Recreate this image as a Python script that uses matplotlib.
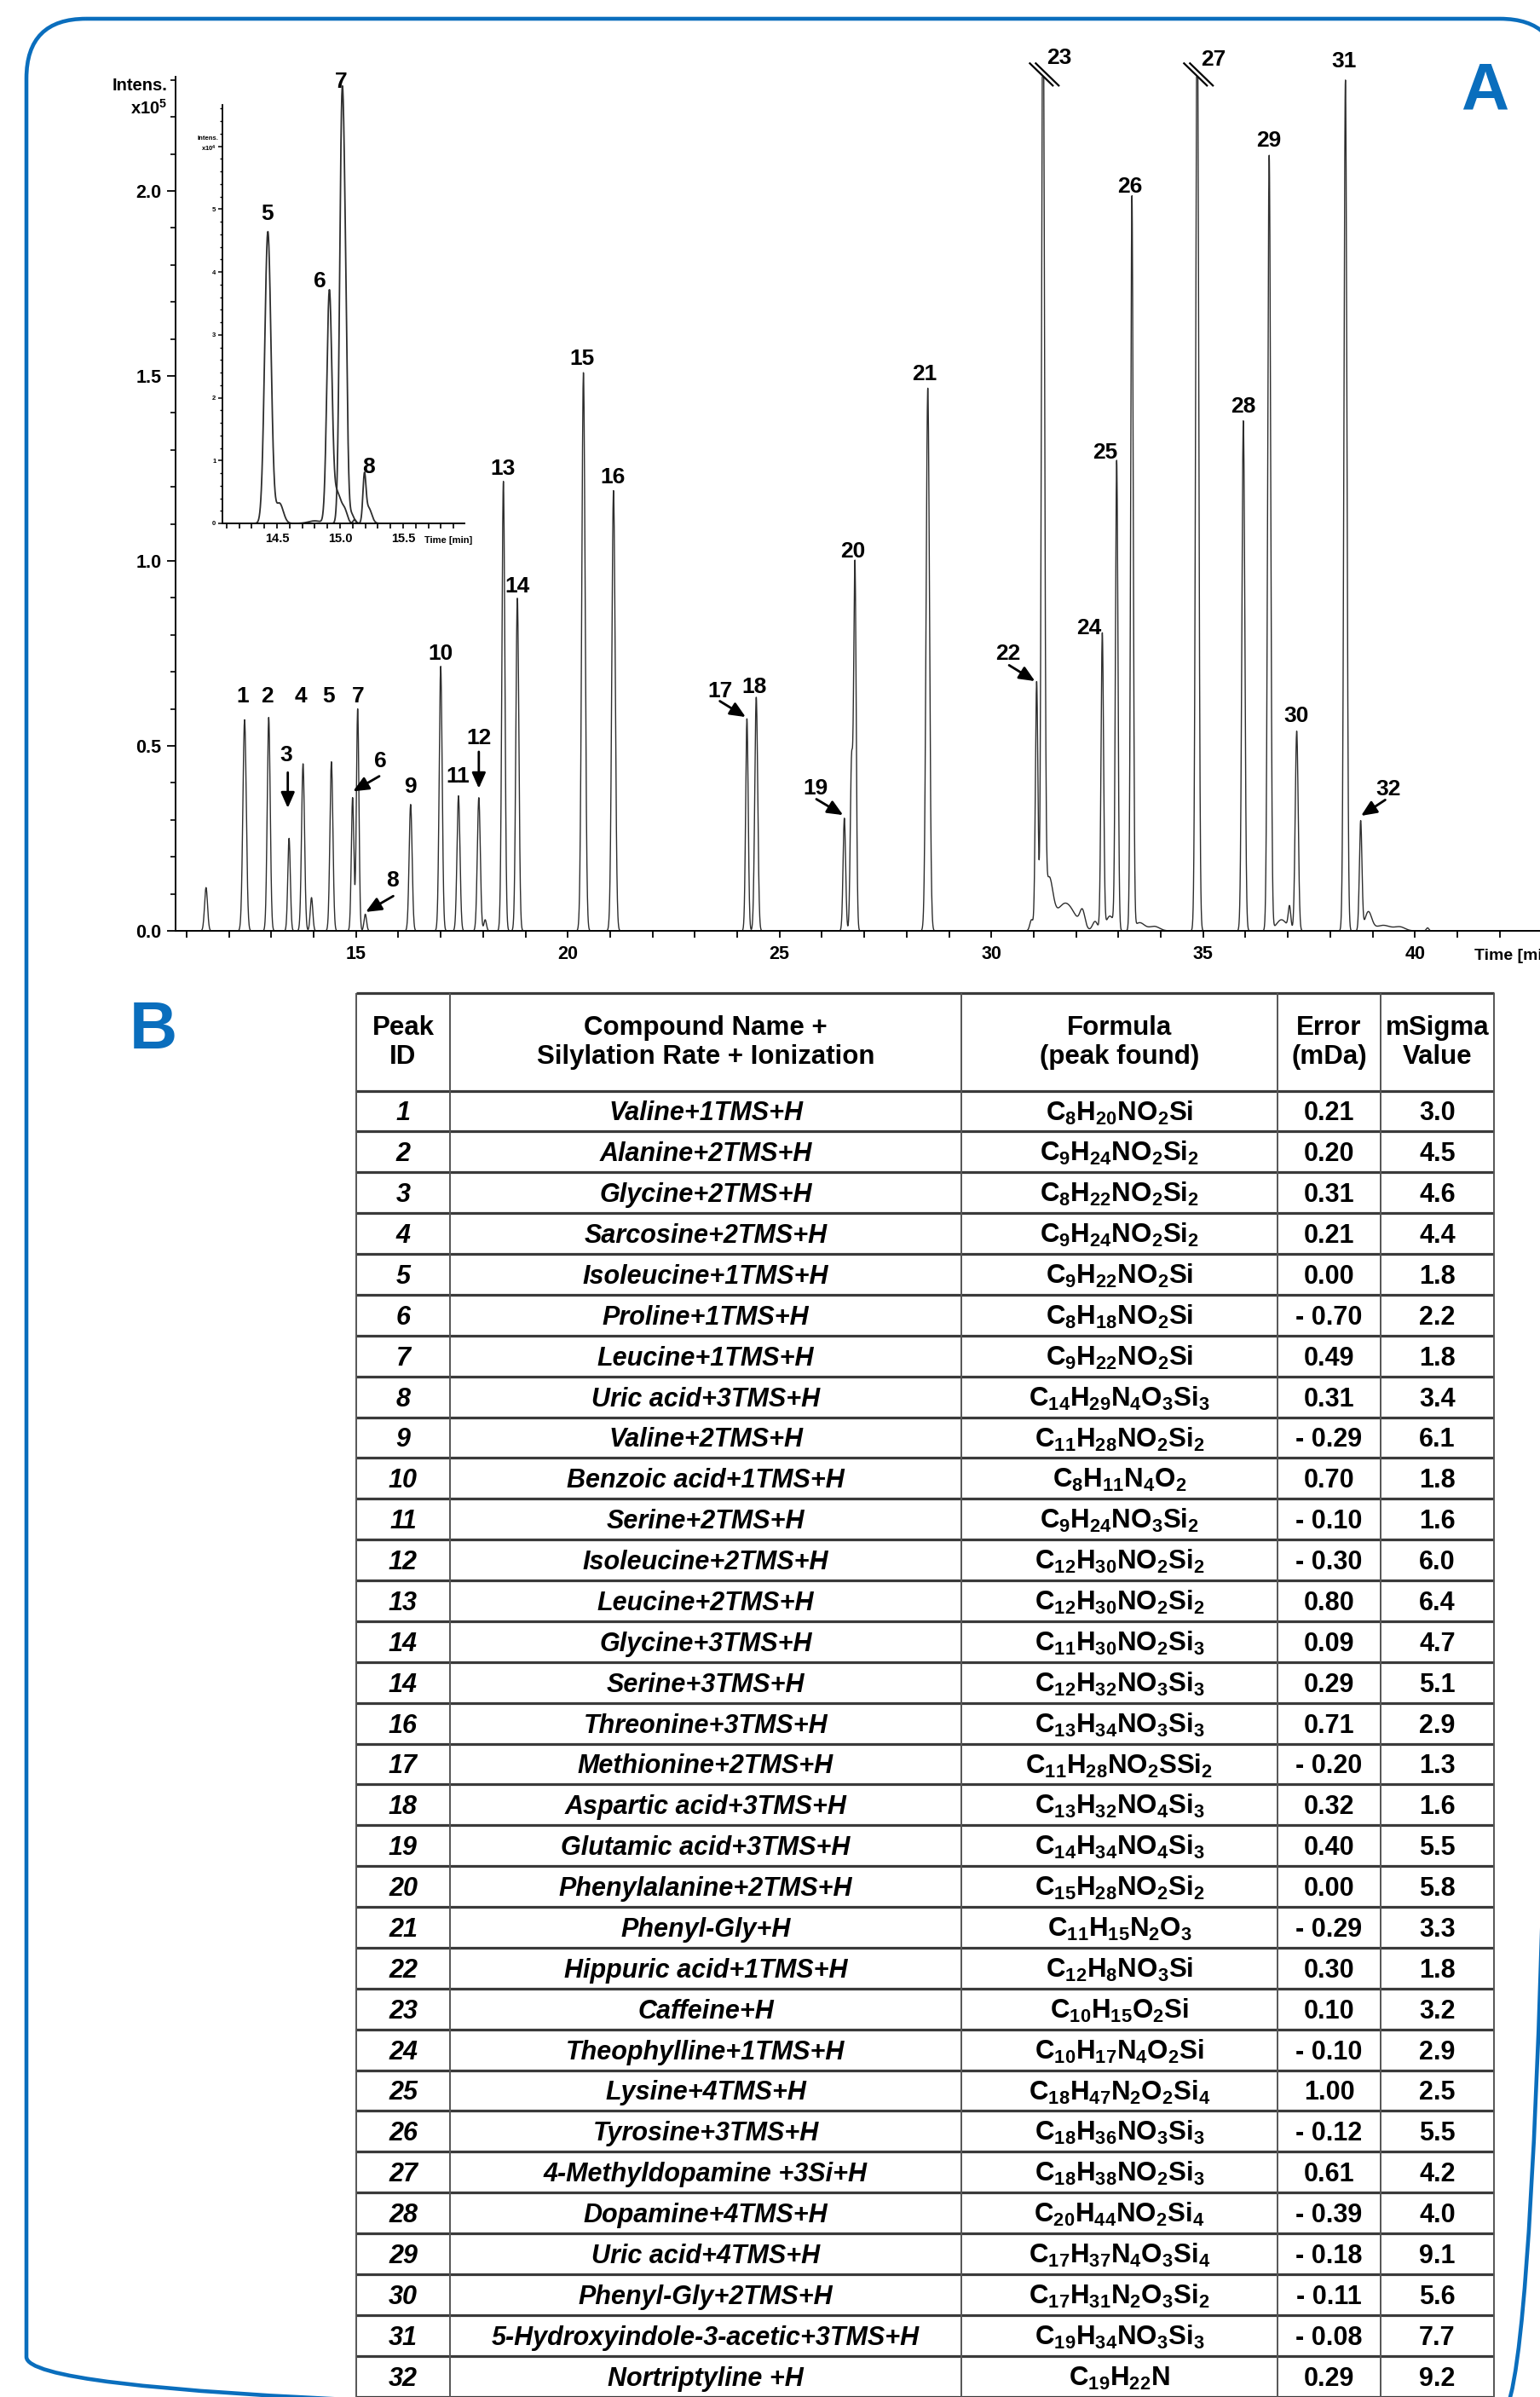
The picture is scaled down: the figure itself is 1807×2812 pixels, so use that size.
import re
import numpy as np
import matplotlib
matplotlib.use('Agg')
import matplotlib.pyplot as plt
from matplotlib.patches import FancyBboxPatch
from matplotlib.ticker import FixedLocator, MultipleLocator, FormatStrFormatter

plt.rcParams['font.family'] = ['Liberation Sans', 'DejaVu Sans']
plt.rcParams['font.weight'] = 'bold'
plt.rcParams['mathtext.fontset'] = 'custom'
plt.rcParams['mathtext.rm'] = 'Liberation Sans'
plt.rcParams['mathtext.bf'] = 'Liberation Sans:bold'
plt.rcParams['mathtext.it'] = 'Liberation Sans:italic'

BLUE = '#0a6ebd'
INK = '#2e2e2e'
W, H = 1807, 2812

# ---- main chromatogram: retention time (min), intensity (x10^5), peak width (min)
peak_rt = [11.46, 12.37, 12.94, 13.42, 13.75, 13.95, 14.42, 14.92, 15.04, 15.22,
           16.29, 17.00, 17.42, 17.90, 18.05, 18.48, 18.81, 20.37, 21.08,
           24.23, 24.45, 26.53, 26.70, 26.78, 28.50, 30.95, 31.07, 31.22,
           31.36, 31.75, 32.15, 32.45, 32.62, 32.80, 32.96, 33.32, 33.50, 33.85,
           34.86, 35.95, 36.56, 36.85, 37.04, 37.21, 38.36, 38.72, 38.90, 39.25,
           39.65, 40.30]
peak_h = [0.117, 0.571, 0.577, 0.250, 0.452, 0.090, 0.457, 0.360, 0.600, 0.045,
          0.342, 0.715, 0.365, 0.360, 0.030, 1.215, 0.900, 1.510, 1.190,
          0.574, 0.632, 0.305, 0.450, 0.990, 1.467, 0.030, 0.673, 2.600,
          0.130, 0.075, 0.045, 0.025, 0.800, 0.040, 1.264, 1.980, 0.022, 0.012,
          2.600, 1.380, 2.095, 0.030, 0.060, 0.540, 2.300, 0.294, 0.050, 0.015,
          0.010, 0.008]
peak_w = [0.035, 0.040, 0.035, 0.030, 0.035, 0.030, 0.035, 0.030, 0.030, 0.030,
          0.035, 0.035, 0.035, 0.035, 0.030, 0.035, 0.035, 0.040, 0.040,
          0.030, 0.035, 0.030, 0.030, 0.030, 0.040, 0.040, 0.030, 0.035,
          0.090, 0.220, 0.060, 0.060, 0.030, 0.090, 0.030, 0.030, 0.120, 0.120,
          0.035, 0.035, 0.035, 0.120, 0.030, 0.035, 0.035, 0.030, 0.080, 0.180,
          0.120, 0.030]

# peak labels (text centre, data units)
label_text = ['1', '2', '3', '4', '5', '6', '7', '8', '9', '10', '11', '12', '13', '14',
              '15', '16', '17', '18', '19', '20', '21', '22', '23', '24', '25', '26',
              '27', '28', '29', '30', '31', '32']
label_t = [12.33, 12.91, 13.36, 13.70, 14.35, 15.57, 15.04, 15.86, 16.29, 17.00, 17.41,
           17.90, 18.47, 18.81, 20.34, 21.06, 23.59, 24.41, 25.85, 26.73, 28.43, 30.39,
           31.61, 32.30, 32.69, 33.27, 35.25, 35.94, 36.55, 37.20, 38.32, 39.37]
label_h = [0.634, 0.634, 0.475, 0.634, 0.634, 0.459, 0.634, 0.135, 0.389, 0.750, 0.416,
           0.520, 1.248, 0.932, 1.545, 1.227, 0.648, 0.660, 0.385, 1.025, 1.504, 0.748,
           2.360, 0.819, 1.293, 2.012, 2.355, 1.417, 2.136, 0.580, 2.351, 0.383]

# arrows for crowded peaks: (tail t, tail h, tip t, tip h)
arrow_tail_t = [13.39, 15.55, 15.88, 17.90, 23.59, 25.87, 30.42, 39.30]
arrow_tail_h = [0.428, 0.418, 0.094, 0.484, 0.621, 0.356, 0.718, 0.354]
arrow_tip_t = [13.39, 14.93, 15.23, 17.90, 24.20, 26.50, 31.03, 38.73]
arrow_tip_h = [0.332, 0.377, 0.051, 0.385, 0.578, 0.313, 0.675, 0.311]

broken_peaks = [31.22, 34.86]

# ---- inset: extracted ion traces for peaks 5-8 (x10^4)
eic_rt = [[14.428, 14.52], [14.915, 14.975, 15.04, 14.80], [15.014, 15.042, 15.09],
          [15.193, 15.225, 15.115]]
eic_h = [[4.64, 0.32], [3.60, 0.50, 0.15, 0.04], [6.20, 2.80, 0.15], [0.70, 0.25, 0.06]]
eic_w = [[0.025, 0.030], [0.020, 0.035, 0.020, 0.050], [0.018, 0.016, 0.020],
         [0.012, 0.025, 0.012]]
inset_label = ['5', '6', '7', '8']
inset_label_t = [14.426, 14.84, 15.007, 15.223]
inset_label_h = [4.93, 3.85, 7.03, 0.90]

# ---- table
peak_ids = ['1', '2', '3', '4', '5', '6', '7', '8', '9', '10', '11', '12', '13', '14', '14',
            '16', '17', '18', '19', '20', '21', '22', '23', '24', '25', '26', '27', '28',
            '29', '30', '31', '32']
compounds = ['Valine+1TMS+H', 'Alanine+2TMS+H', 'Glycine+2TMS+H', 'Sarcosine+2TMS+H',
             'Isoleucine+1TMS+H', 'Proline+1TMS+H', 'Leucine+1TMS+H', 'Uric acid+3TMS+H',
             'Valine+2TMS+H', 'Benzoic acid+1TMS+H', 'Serine+2TMS+H', 'Isoleucine+2TMS+H',
             'Leucine+2TMS+H', 'Glycine+3TMS+H', 'Serine+3TMS+H', 'Threonine+3TMS+H',
             'Methionine+2TMS+H', 'Aspartic acid+3TMS+H', 'Glutamic acid+3TMS+H',
             'Phenylalanine+2TMS+H', 'Phenyl-Gly+H', 'Hippuric acid+1TMS+H', 'Caffeine+H',
             'Theophylline+1TMS+H', 'Lysine+4TMS+H', 'Tyrosine+3TMS+H',
             '4-Methyldopamine +3Si+H', 'Dopamine+4TMS+H', 'Uric acid+4TMS+H',
             'Phenyl-Gly+2TMS+H', '5-Hydroxyindole-3-acetic+3TMS+H', 'Nortriptyline +H']
formulas = ['C8H20NO2Si', 'C9H24NO2Si2', 'C8H22NO2Si2', 'C9H24NO2Si2', 'C9H22NO2Si',
            'C8H18NO2Si', 'C9H22NO2Si', 'C14H29N4O3Si3', 'C11H28NO2Si2', 'C8H11N4O2',
            'C9H24NO3Si2', 'C12H30NO2Si2', 'C12H30NO2Si2', 'C11H30NO2Si3', 'C12H32NO3Si3',
            'C13H34NO3Si3', 'C11H28NO2SSi2', 'C13H32NO4Si3', 'C14H34NO4Si3', 'C15H28NO2Si2',
            'C11H15N2O3', 'C12H8NO3Si', 'C10H15O2Si', 'C10H17N4O2Si', 'C18H47N2O2Si4',
            'C18H36NO3Si3', 'C18H38NO2Si3', 'C20H44NO2Si4', 'C17H37N4O3Si4',
            'C17H31N2O3Si2', 'C19H34NO3Si3', 'C19H22N']
errors = ['0.21', '0.20', '0.31', '0.21', '0.00', '- 0.70', '0.49', '0.31', '- 0.29', '0.70',
          '- 0.10', '- 0.30', '0.80', '0.09', '0.29', '0.71', '- 0.20', '0.32', '0.40', '0.00',
          '- 0.29', '0.30', '0.10', '- 0.10', '1.00', '- 0.12', '0.61', '- 0.39', '- 0.18',
          '- 0.11', '- 0.08', '0.29']
msigma = ['3.0', '4.5', '4.6', '4.4', '1.8', '2.2', '1.8', '3.4', '6.1', '1.8', '1.6', '6.0',
          '6.4', '4.7', '5.1', '2.9', '1.3', '1.6', '5.5', '5.8', '3.3', '1.8', '3.2', '2.9',
          '2.5', '5.5', '4.2', '4.0', '9.1', '5.6', '7.7', '9.2']
headers = ['Peak\nID', 'Compound Name +\nSilylation Rate + Ionization',
           'Formula\n(peak found)', 'Error\n(mDa)', 'mSigma\nValue']


def trace(t, rts, hs, ws):
    y = np.zeros_like(t)
    for r, h, w in zip(rts, hs, ws):
        y += h * np.exp(-0.5 * ((t - r) / w) ** 2)
    return y


fig = plt.figure(figsize=(W / 100, H / 100), dpi=100)

# background canvas in pixel units: frame, panel letters, table
cv = fig.add_axes([0, 0, 1, 1])
cv.set_xlim(0, W)
cv.set_ylim(H, 0)
cv.axis('off')
cv.add_patch(FancyBboxPatch((31, 22), 1830 - 31, 2835 - 22,
                            boxstyle='round,pad=0,rounding_size=70',
                            fill=False, ec=BLUE, lw=3.3))
cv.text(1742, 108, 'A', color=BLUE, fontsize=56, ha='center', va='center')
cv.text(180, 1210, 'B', color=BLUE, fontsize=56, ha='center', va='center')
cv.text(197, 100, 'Intens.', fontsize=14.5, ha='right', va='center')
cv.text(196, 127, 'x10$^{5}$', fontsize=14.5, ha='right', va='center')
cv.text(256, 162, 'Intens.', fontsize=5.5, ha='right', va='center')
cv.text(254, 174, 'x10$^{4}$', fontsize=5.5, ha='right', va='center')

# table
col_x = [418, 528, 1128, 1499, 1620, 1753]
head_top, head_bot, row_h = 1165, 1279.5, 47.875
n = len(peak_ids)
row_lines = [head_top] + [head_bot + i * row_h for i in range(n + 1)]
cv.hlines(row_lines, col_x[0], col_x[-1], color='#3a3a3a', lw=2.3)
cv.vlines(col_x, head_top, head_bot + n * row_h, color='#555555', lw=1.4)
centers = [(a + b) / 2 for a, b in zip(col_x[:-1], col_x[1:])]
for cx, htxt in zip(centers, headers):
    cv.text(cx, (head_top + head_bot) / 2 + 1, htxt, fontsize=22.5, ha='center',
            va='center', linespacing=1.18)
for i in range(n):
    yb = head_bot + i * row_h + row_h / 2 + 11
    cv.text(centers[0], yb, peak_ids[i], fontsize=22, style='italic', ha='center', va='baseline')
    cv.text(centers[1], yb, compounds[i], fontsize=22, style='italic', ha='center', va='baseline')
    ftxt = r'$\mathbf{' + re.sub(r'(\d+)', r'_{\1}', formulas[i]) + '}$'
    cv.text(centers[2], yb, ftxt, fontsize=22.5, ha='center', va='baseline')
    cv.text(centers[3], yb, errors[i], fontsize=22, ha='center', va='baseline')
    cv.text(centers[4], yb, msigma[i], fontsize=22, ha='center', va='baseline')

# main chromatogram
x0_px, y0_px, ytop_px = 206, 1092, 89.5
ax = fig.add_axes([x0_px / W, 1 - y0_px / H, (W - x0_px) / W, (y0_px - ytop_px) / H])
ax.set_facecolor('none')
t_min = 15 - (417.7 - x0_px) / 49.7
t_max = 15 + (W - 417.7) / 49.7
ax.set_xlim(t_min, t_max)
ax.set_ylim(0, 2.31)
t = np.arange(t_min, t_max, 0.004)
ax.plot(t, trace(t, peak_rt, peak_h, peak_w), color=INK, lw=1.0)
for s in ['top', 'right']:
    ax.spines[s].set_visible(False)
for s in ['left', 'bottom']:
    ax.spines[s].set_linewidth(1.4)
ax.xaxis.set_major_locator(MultipleLocator(5))
ax.xaxis.set_minor_locator(MultipleLocator(1))
ax.yaxis.set_major_locator(FixedLocator([0, 0.5, 1.0, 1.5, 2.0]))
ax.yaxis.set_minor_locator(MultipleLocator(0.1))
ax.yaxis.set_major_formatter(FormatStrFormatter('%.1f'))
ax.tick_params(axis='x', which='both', direction='out', length=6, width=1.3,
               labelsize=15.5, pad=6)
ax.tick_params(axis='y', which='major', direction='out', length=7, width=1.3,
               labelsize=15.5, pad=5)
ax.tick_params(axis='y', which='minor', direction='out', length=4, width=1.2)
ax.text(41.4, -0.069, 'Time [min]', fontsize=14, ha='left', va='center')

for s, lt, lh in zip(label_text, label_t, label_h):
    ax.text(lt, lh, s, fontsize=19, ha='center', va='center')
for tt, th, pt, ph in zip(arrow_tail_t, arrow_tail_h, arrow_tip_t, arrow_tip_h):
    ax.annotate('', xy=(pt, ph), xytext=(tt, th),
                arrowprops=dict(arrowstyle='-|>,head_length=0.5,head_width=0.22',
                                color='black', lw=2.0, shrinkA=0, shrinkB=0,
                                mutation_scale=22))
for bp in broken_peaks:
    for off in (-0.07, 0.07):
        ax.plot([bp - 0.24 + off, bp + 0.30 + off], [2.345, 2.285], color='black',
                lw=1.6, clip_on=False)

# inset
ins = fig.add_axes([261 / W, 1 - 614 / H, (545 - 261) / W, (614 - 123) / H])
ins.set_facecolor('none')
ins.set_xlim(14.068, 15.986)
ins.set_ylim(0, 6.66)
ti = np.arange(14.068, 15.986, 0.001)
for rts, hs, ws in zip(eic_rt, eic_h, eic_w):
    ins.plot(ti, trace(ti, rts, hs, ws), color=INK, lw=1.3, clip_on=False)
for s in ['top', 'right']:
    ins.spines[s].set_visible(False)
for s in ['left', 'bottom']:
    ins.spines[s].set_linewidth(1.3)
ins.xaxis.set_major_locator(FixedLocator([14.5, 15.0, 15.5]))
ins.xaxis.set_major_formatter(FormatStrFormatter('%.1f'))
ins.xaxis.set_minor_locator(MultipleLocator(0.1))
ins.yaxis.set_major_locator(FixedLocator([0, 1, 2, 3, 4, 5, 6]))
ins.set_yticklabels(['0', '1', '2', '3', '4', '5', ''])
ins.yaxis.set_minor_locator(MultipleLocator(0.2))
ins.tick_params(axis='x', which='both', direction='out', length=4, width=1.2,
                labelsize=10.5, pad=4)
ins.tick_params(axis='y', which='major', direction='out', length=3.5, width=1.1,
                labelsize=5.5, pad=2)
ins.tick_params(axis='y', which='minor', direction='out', length=2, width=1.0)
ins.text(15.67, -0.27, 'Time [min]', fontsize=8, ha='left', va='center')
for s, lt, lh in zip(inset_label, inset_label_t, inset_label_h):
    ins.text(lt, lh, s, fontsize=19, ha='center', va='center')

fig.savefig('out.png', dpi=100)
